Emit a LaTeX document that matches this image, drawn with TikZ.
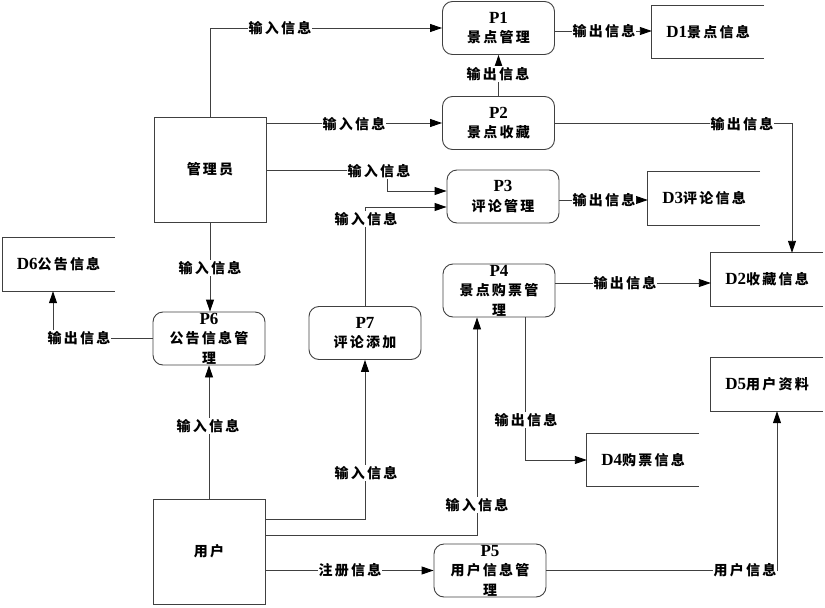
\documentclass[tikz,border=0pt]{standalone}
\usepackage{fontspec}
\setmainfont{Noto Sans CJK SC}[LetterSpace=16]
\newfontfamily\lat{Liberation Serif}
\usetikzlibrary{arrows.meta}
\newcommand{\Lt}[1]{{\lat\bfseries\fontsize{17}{19.5}\selectfont #1}}
\begin{document}
\begin{tikzpicture}[x=1pt,y=-1pt,
  ln/.style={draw=black!75, line width=0.9pt},
  arr/.style={ln, -{Triangle[length=12pt,width=8pt,fill=black,color=black]}},
  proc/.style={draw=black!75, line width=0.9pt, rounded corners=10pt, minimum width=112pt, minimum height=53pt, inner sep=0pt},
  ent/.style={draw=black!75, line width=0.9pt, minimum width=112pt, minimum height=105pt, inner sep=0pt, font=\fontsize{14}{19.5}\selectfont\bfseries},
  store/.style={minimum width=112pt, minimum height=53pt, inner sep=0pt, font=\fontsize{14}{19.5}\selectfont\bfseries},
  txt/.style={align=center, inner sep=0pt, font=\fontsize{14}{19.5}\selectfont\bfseries},
  lbl/.style={fill=white, inner sep=1pt, font=\fontsize{14}{19.5}\selectfont\bfseries}
]
\useasboundingbox (0,0) rectangle (825,608);

% external entities
\node[ent] (mgr) at (210,169.5) {管理员};
\node[ent] (usr) at (209,551.5) {用户};

% processes
\node[proc] (p1) at (498.5,28) {};
\node[proc] (p2) at (498.5,123) {};
\node[proc] (p3) at (503,196.5) {};
\node[proc] (p4) at (499,290.5) {};
\node[proc] (p6) at (209,338.5) {};
\node[proc] (p7) at (365,333) {};
\node[proc] (p5) at (490,570.5) {};
\node[txt] (p1t) at (p1) {\Lt{P1}\\景点管理};
\node[txt] (p2t) at (p2) {\Lt{P2}\\景点收藏};
\node[txt] (p3t) at (p3) {\Lt{P3}\\评论管理};
\node[txt] (p4t) at (p4) {\Lt{P4}\\景点购票管\\理};
\node[txt] (p6t) at (p6) {\Lt{P6}\\公告信息管\\理};
\node[txt] (p7t) at (p7) {\Lt{P7}\\评论添加};
\node[txt] (p5t) at (p5) {\Lt{P5}\\用户信息管\\理};

% data stores
\node[store] (d1) at (708,32) {\Lt{D1}景点信息};
\node[store] (d3) at (704,198.5) {\Lt{D3}评论信息};
\node[store] (d2) at (767,279.5) {\Lt{D2}收藏信息};
\node[store] (d5) at (767,384.5) {\Lt{D5}用户资料};
\node[store] (d4) at (643,460) {\Lt{D4}购票信息};
\node[store] (d6) at (58.5,264.5) {\Lt{D6}公告信息};
\foreach \d in {d1,d2,d3,d4,d5,d6}
  \draw[ln] (\d.north east) -- (\d.north west) -- (\d.south west) -- (\d.south east);

% flows
\draw[arr] (mgr.north) |- (p1.west);
\draw[arr] (mgr.east |- p2.west) -- (p2.west);
\draw[arr] (mgr.east |- 0,170) -| (387,191) -- (p3.west |- 0,191);
\draw[arr] (p7.north) |- (p3.west |- 0,207);
\draw[arr] ([yshift=-3pt]p1.east) -- ([yshift=-3pt]p1.east -| d1.west);
\draw[arr] (p2.north) -- (p1.south);
\draw[arr] (p2.east) -| (d2.north -| 792,0);
\draw[arr] (p3.east |- 0,200) -- (d3.west |- 0,200);
\draw[arr] (p4.east |- 0,283) -- (d2.west |- 0,283);
\draw[arr] (p4.south -| 525,0) |- (d4.west);
\draw[arr] (mgr.south) -- (mgr.south |- p6.north);
\draw[arr] (p6.west) -| (d6.south -| 53,0);
\draw[arr] (usr.north) -- (usr.north |- p6.south);
\draw[arr] (usr.east |- 0,519) -| (p7.south);
\draw[arr] (usr.east |- 0,535) -| (p4.south -| 477,0);
\draw[arr] (usr.east |- p5.west) -- (p5.west);
\draw[arr] (p5.east) -| (d5.south -| 777,0);

% flow labels
\node[lbl] (l1) at (280,28) {输入信息};
\node[lbl] (l2) at (354,124) {输入信息};
\node[lbl] (l3) at (379,171) {输入信息};
\node[lbl] (l4) at (366,219) {输入信息};
\node[lbl] (l5) at (498,74) {输出信息};
\node[lbl] (l6) at (604,31) {输出信息};
\node[lbl] (l7) at (742,124) {输出信息};
\node[lbl] (l8) at (604,200) {输出信息};
\node[lbl] (l9) at (625,283) {输出信息};
\node[lbl] (l10) at (526,420) {输出信息};
\node[lbl] (l11) at (210,268) {输入信息};
\node[lbl] (l12) at (79,338) {输出信息};
\node[lbl] (l13) at (208,426) {输入信息};
\node[lbl] (l14) at (366,473) {输入信息};
\node[lbl] (l15) at (477,505) {输入信息};
\node[lbl] (l16) at (350,570) {注册信息};
\node[lbl] (l17) at (745,570) {用户信息};
\end{tikzpicture}
\end{document}
